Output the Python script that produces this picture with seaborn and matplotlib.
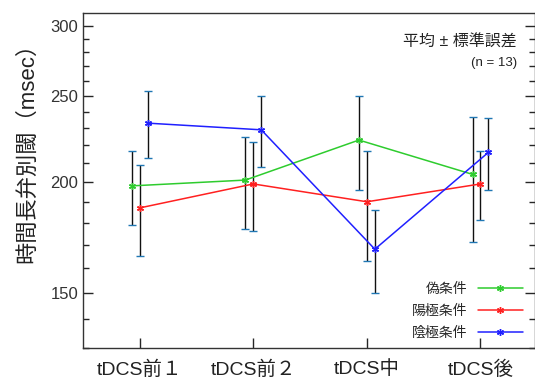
import numpy as np
import pandas as pd
import matplotlib
matplotlib.use("Agg")
import matplotlib.pyplot as plt
import matplotlib.ticker as mticker
import seaborn as sns

# data
sessions = ['tDCS前１', 'tDCS前２', 'tDCS中', 'tDCS後']
conditions = ['偽条件', '陽極条件', '陰極条件']
sham_mean = [198, 201, 223, 204]
sham_se = [19, 24, 27, 33]
anodal_mean = [187, 199, 190, 199]
anodal_se = [22, 23, 27, 18]
cathodal_mean = [233, 229, 168, 216]
cathodal_se = [20, 21, 18, 20]

colors = ['#2ecc2e', '#ff2020', '#2020ff']
offsets = [-0.07, 0.0, 0.07]

rows = []
for cond, means, ses, off in zip(conditions, [sham_mean, anodal_mean, cathodal_mean],
                                 [sham_se, anodal_se, cathodal_se], offsets):
    for i, (m, s) in enumerate(zip(means, ses)):
        rows.append({'cond': cond, 'x': i + off, 'mean': m, 'se': s})
df = pd.DataFrame(rows)

sns.set_style("ticks")
plt.rcParams['font.family'] = ['Liberation Sans', 'Noto Sans CJK JP']

fig = plt.figure(figsize=(5.35, 3.85), dpi=100)
ax = fig.add_axes([0.155, 0.096, 0.845, 0.870])

for cond in conditions:
    d = df[df['cond'] == cond]
    ax.errorbar(d['x'], d['mean'], yerr=d['se'], fmt='none', ecolor='#111111',
                elinewidth=1.0, capsize=3, capthick=1.0, zorder=1)

sns.lineplot(data=df, x='x', y='mean', hue='cond', hue_order=conditions,
             palette=colors, marker=(6, 2, 0), markersize=5, markeredgewidth=1,
             linewidth=1.1, ax=ax, zorder=3)
for ln in ax.lines:
    ln.set_markeredgecolor(ln.get_color())

ax.set_yscale('log')
ax.set_ylim(130, 310)
ax.set_xlim(-0.5, 3.48)
ax.yaxis.set_major_locator(mticker.FixedLocator([150, 200, 250, 300]))
ax.yaxis.set_major_formatter(mticker.FixedFormatter(['150', '200', '250', '300']))
ax.yaxis.set_minor_locator(mticker.FixedLocator([v for v in range(130, 310, 10) if v % 50 != 0]))
ax.yaxis.set_minor_formatter(mticker.NullFormatter())
ax.set_xticks(range(len(sessions)))
ax.set_xticklabels(sessions)

ax.tick_params(axis='y', which='major', direction='in', length=7, width=1,
               labelsize=12, labelcolor='#333333', right=True)
ax.tick_params(axis='y', which='minor', direction='in', length=4, width=1, right=True)
ax.tick_params(axis='x', which='major', direction='in', length=7, width=1,
               labelsize=14, pad=9, labelcolor='#222222')
for sp in ax.spines.values():
    sp.set_linewidth(1.0)
    sp.set_color('#333333')

ax.set_xlabel('')
ax.set_ylabel('時間長弁別閾（msec）', fontsize=16, color='#222222')
ax.yaxis.set_label_coords(-0.1, 0.6)

handles, labels = ax.get_legend_handles_labels()
for h in handles:
    h.set_markeredgecolor(h.get_color())
ax.legend(handles, labels, loc='lower right', bbox_to_anchor=(1.0, -0.012),
          markerfirst=False, frameon=False, fontsize=10, handlelength=3.2,
          labelspacing=0.55, handletextpad=0.8)

ax.text(0.96, 0.915, '平均 ± 標準誤差', transform=ax.transAxes, ha='right',
        va='center', fontsize=11.5, color='#222222')
ax.text(0.96, 0.852, '(n = 13)', transform=ax.transAxes, ha='right',
        va='center', fontsize=9.5, color='#222222')

fig.savefig('out.png', dpi=100)
